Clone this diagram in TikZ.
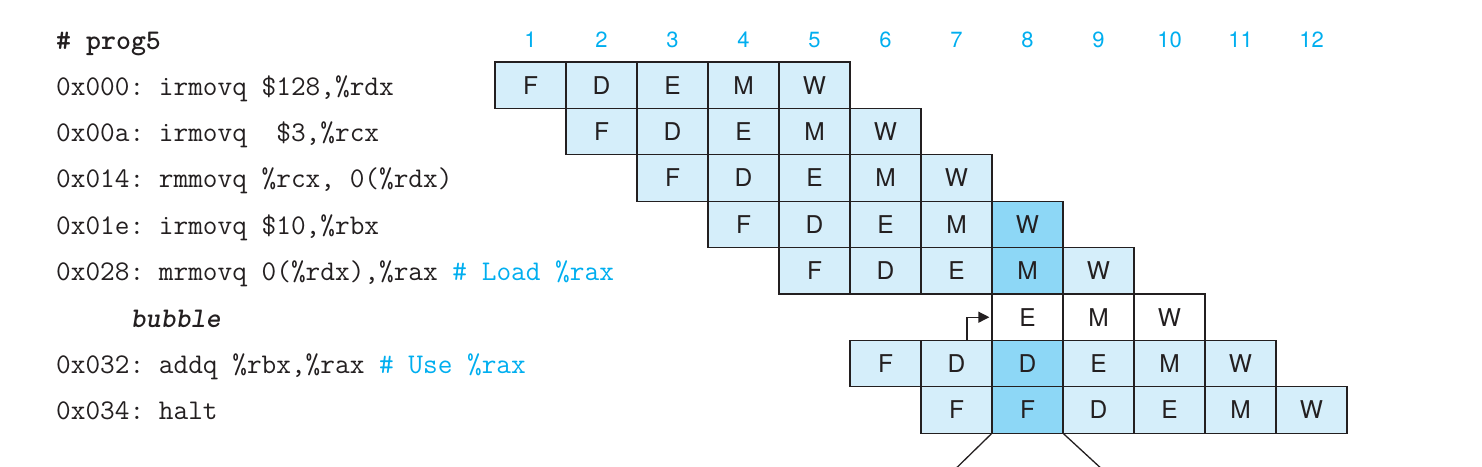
\documentclass[tikz,border=0pt]{standalone}
\usepackage{fontspec}
\newfontfamily\hv{TeX Gyre Heros}
\usetikzlibrary{arrows.meta}
\definecolor{lblue}{HTML}{D5EEFA}
\definecolor{dblue}{HTML}{8DD7F6}
\definecolor{cy}{HTML}{00AEEF}
\definecolor{ink}{HTML}{231F20}
\tikzset{
 cell/.style={draw=ink, line width=1.3pt, fill=lblue, minimum width=71pt, minimum height=46.4pt,
   inner sep=0pt, font=\hv\fontsize{24.5}{25}\selectfont, text=ink, anchor=center},
 hot/.style={cell, fill=dblue},
 bub/.style={cell, fill=white},
 cyc/.style={font=\hv\fontsize{22}{22}\selectfont, text=cy, inner sep=0pt},
 code/.style={anchor=base west, inner sep=0pt, font=\ttfamily\fontsize{28.5}{30}\selectfont, text=ink},
 conn/.style={draw=ink, line width=1.3pt},
}
\begin{document}
\begin{tikzpicture}[x=1pt,y=-1pt]
\useasboundingbox (0,0) rectangle (1482,466);
% cycle numbers
\foreach \k in {1,...,12} \node[cyc] (n\k) at ({530.5+71*(\k-1)},40) {\k};
% code
\node[code] (t0) at (56,49.5) {\bfseries\#\ prog5};
\node[code] (t1) at (56,95.0) {0x000:\ irmovq\ \$128,\%rdx};
\node[code] (t2) at (56,141.4) {0x00a:\ irmovq\ \ \$3,\%rcx};
\node[code] (t3) at (56,187.8) {0x014:\ rmmovq\ \%rcx,\ 0(\%rdx)};
\node[code] (t4) at (56,234.2) {0x01e:\ irmovq\ \$10,\%rbx};
\node[code] (t5) at (56,280.6) {0x028:\ mrmovq\ 0(\%rdx),\%rax\ \textcolor{cy}{\#\ Load\ \%rax}};
\node[code] (t6) at (130.5,327.0) {\bfseries\itshape bubble};
\node[code] (t7) at (56,373.4) {0x032:\ addq\ \%rbx,\%rax\ \textcolor{cy}{\#\ Use\ \%rax}};
\node[code] (t8) at (56,419.8) {0x034:\ halt};
% row 1
\node[cell] (a1) at (530.5,85.2) {F};
\node[cell] (a2) at (601.5,85.2) {D};
\node[cell] (a3) at (672.5,85.2) {E};
\node[cell] (a4) at (743.5,85.2) {M};
\node[cell] (a5) at (814.5,85.2) {W};
% row 2
\node[cell] (b2) at (601.5,131.6) {F};
\node[cell] (b3) at (672.5,131.6) {D};
\node[cell] (b4) at (743.5,131.6) {E};
\node[cell] (b5) at (814.5,131.6) {M};
\node[cell] (b6) at (885.5,131.6) {W};
% row 3
\node[cell] (c3) at (672.5,178.0) {F};
\node[cell] (c4) at (743.5,178.0) {D};
\node[cell] (c5) at (814.5,178.0) {E};
\node[cell] (c6) at (885.5,178.0) {M};
\node[cell] (c7) at (956.5,178.0) {W};
% row 4
\node[cell] (d4) at (743.5,224.4) {F};
\node[cell] (d5) at (814.5,224.4) {D};
\node[cell] (d6) at (885.5,224.4) {E};
\node[cell] (d7) at (956.5,224.4) {M};
\node[hot]  (d8) at (1027.5,224.4) {W};
% row 5
\node[cell] (e5) at (814.5,270.8) {F};
\node[cell] (e6) at (885.5,270.8) {D};
\node[cell] (e7) at (956.5,270.8) {E};
\node[hot]  (e8) at (1027.5,270.8) {M};
\node[cell] (e9) at (1098.5,270.8) {W};
% row 6 bubble
\node[bub] (f8) at (1027.5,317.2) {E};
\node[bub] (f9) at (1098.5,317.2) {M};
\node[bub] (f10) at (1169.5,317.2) {W};
% row 7
\node[cell] (g6) at (885.5,363.6) {F};
\node[cell] (g7) at (956.5,363.6) {D};
\node[hot]  (g8) at (1027.5,363.6) {D};
\node[cell] (g9) at (1098.5,363.6) {E};
\node[cell] (g10) at (1169.5,363.6) {M};
\node[cell] (g11) at (1240.5,363.6) {W};
% row 8
\node[cell] (h7) at (956.5,410.0) {F};
\node[hot]  (h8) at (1027.5,410.0) {F};
\node[cell] (h9) at (1098.5,410.0) {D};
\node[cell] (h10) at (1169.5,410.0) {E};
\node[cell] (h11) at (1240.5,410.0) {M};
\node[cell] (h12) at (1311.5,410.0) {W};
% bubble arrow
\coordinate (bs) at (967,340.4);
\draw[conn, -{Triangle[length=11pt,width=11pt]}] (bs) |- ([xshift=-2pt]f8.west);
% bottom lines
\coordinate (ll) at (941,483);
\coordinate (lr) at (1117,483);
\draw[conn] (h8.south west) -- (ll);
\draw[conn] (h8.south east) -- (lr);
\end{tikzpicture}
\end{document}
